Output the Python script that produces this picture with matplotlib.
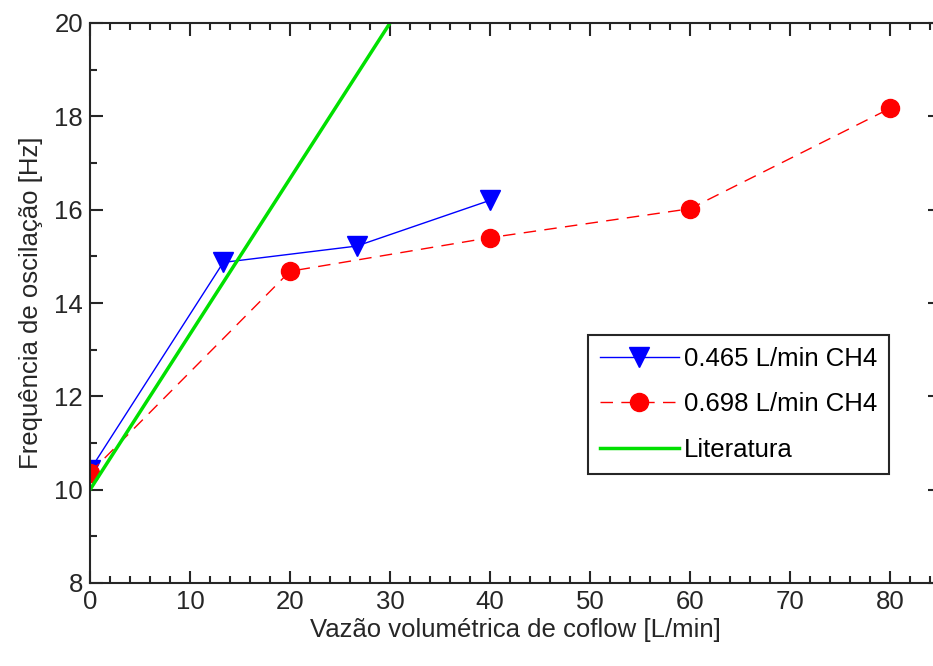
import matplotlib
matplotlib.use("Agg")
import matplotlib.pyplot as plt
from matplotlib.ticker import MultipleLocator

# coflow rate [L/min] and oscillation frequency [Hz]
coflow_465 = [0, 13.33, 26.67, 40]
freq_465 = [10.42, 14.87, 15.22, 16.2]

coflow_698 = [0, 20, 40, 60, 80]
freq_698 = [10.36, 14.68, 15.4, 16.02, 18.17]

coflow_lit = [0, 30]
freq_lit = [10.0, 20.0]

plt.rcParams['font.family'] = ['Liberation Sans', 'DejaVu Sans']
FS = 18.5
INK = '#262626'

fig = plt.figure(figsize=(9.33, 6.66), dpi=100)
ax = fig.add_axes([90 / 933, 83 / 666, 850 / 933, 560 / 666])

ax.plot(coflow_465, freq_465, color='#0000ff', lw=1.0, marker='v',
        markersize=14, label="0.465 L/min CH4")
ax.plot(coflow_698, freq_698, color='#ff0000', lw=1.0, ls=(0, (9, 6)),
        marker='o', markersize=13, label="0.698 L/min CH4")
ax.plot(coflow_lit, freq_lit, color='#00e000', lw=2.5, label="Literatura")

ax.set_xlim(0, 85)
ax.set_ylim(8, 20)
ax.xaxis.set_major_locator(MultipleLocator(10))
ax.xaxis.set_minor_locator(MultipleLocator(2))
ax.yaxis.set_major_locator(MultipleLocator(2))
ax.yaxis.set_minor_locator(MultipleLocator(1))
ax.tick_params(which='both', direction='in', top=True, right=True,
               labelsize=FS, color=INK, labelcolor=INK, pad=5)
ax.tick_params(which='major', length=9, width=1.5)
ax.tick_params(which='minor', length=5, width=1.5)
for s in ax.spines.values():
    s.set_linewidth(1.5)
    s.set_color(INK)

ax.set_xlabel("Vazão volumétrica de coflow [L/min]", fontsize=FS,
              color=INK, labelpad=3)
ax.set_ylabel("Frequência de oscilação [Hz]", fontsize=FS,
              color=INK, labelpad=8)

leg = ax.legend(loc='upper left', bbox_to_anchor=(498 / 850, 248 / 560),
                fontsize=FS, fancybox=False, framealpha=1,
                edgecolor=INK, handlelength=3.1, handletextpad=0.2,
                borderpad=0.45, labelspacing=0.85, borderaxespad=0)
leg.get_frame().set_linewidth(1.5)

fig.savefig("out.png", dpi=100)
